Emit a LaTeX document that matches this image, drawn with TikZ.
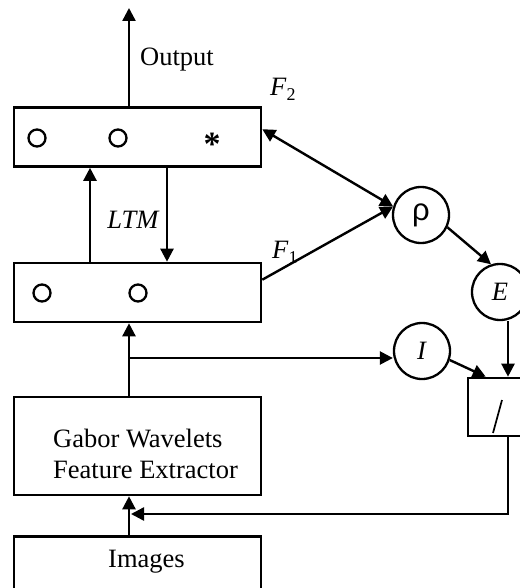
\documentclass[tikz,border=0pt]{standalone}
\usepackage{fontspec}
\setmainfont{Liberation Serif}
\newfontfamily\greekfont{Liberation Sans}
\usetikzlibrary{arrows.meta,positioning,calc}
\tikzset{
  layer/.style={draw,line width=2.6pt,minimum width=247pt,minimum height=59pt,inner sep=0pt},
  block/.style={draw,line width=2.6pt,minimum width=247pt,inner sep=0pt},
  cell/.style={draw,circle,line width=2.3pt,minimum size=17pt,inner sep=0pt},
  unit/.style={draw,circle,line width=2.3pt,minimum size=56pt,inner sep=0pt,
    font=\fontsize{26.5}{31}\selectfont},
  arrow/.style={-{Triangle[length=13pt,width=13pt]},line width=2.4pt},
  twoway/.style={{Triangle[length=13pt,width=13pt]}-{Triangle[length=13pt,width=13pt]},line width=2.4pt},
  labelstyle/.style={font=\fontsize{26.5}{31}\selectfont,inner sep=0pt}
}
\newcommand{\layerlab}[1]{\textit{F}\raisebox{-5pt}{\fontsize{18}{18}\selectfont #1}}

\begin{document}
\begin{tikzpicture}[x=1pt,y=-1pt]
  \useasboundingbox (0,0) rectangle (519,588);
  % boxes
  \node[layer] (f2) at (137.5,137) {};
  \node[layer] (f1) at (137.5,292.5) {};
  \node[block,minimum height=98pt] (gabor) at (137.5,446) {};
  \node[block,minimum height=70pt,anchor=north] (images) at (137.5,535) {};
  \node[draw,line width=2.6pt,minimum width=80pt,minimum height=58pt,inner sep=0pt] (cmp) at (508,407) {};
  % texts
  \node[labelstyle,align=left,anchor=west] (gabortxt) at (53,454) {Gabor Wavelets\\Feature Extractor};
  \node[labelstyle,anchor=base] (imgtxt) at (146.5,567) {Images};
  \node[labelstyle,anchor=base west] (outtxt) at (140,66) {Output};
  \node[labelstyle,anchor=base,font=\fontsize{26.5}{31}\selectfont\itshape] (ltm) at (133,228) {LTM};
  \node[labelstyle,anchor=base west] (f2lbl) at (270,96) {\layerlab{2}};
  \node[labelstyle,anchor=base west] (f1lbl) at (272,258) {\layerlab{1}};
  % cells of F2 and F1
  \node[cell] (a2) at (37,138) {};
  \node[cell] (b2) at (118,138) {};
  \node[labelstyle,anchor=base,font=\fontsize{34}{34}\selectfont\bfseries] (star) at (212,156) {*};
  \node[cell] (a1) at (42,293) {};
  \node[cell] (b1) at (138,293) {};
  % orienting units
  \node[unit] (rho) at (421,215) {\fontsize{31}{31}\selectfont\greekfont ρ};
  \node[unit] (E) at (500,292) {\textit{E}};
  \node[unit] (I) at (422,351) {\textit{I}};
  \draw[line width=1.7pt] ($(cmp.center)+(-6,-7)$) -- ($(cmp.center)+(-15,26)$);
  % connections
  \coordinate (out) at (129,8);
  \coordinate (split) at (129,358);
  \coordinate (fb) at (131,514);
  \draw[arrow] (f2.north -| out) -- (out);
  \draw[arrow] ([xshift=-47.5pt]f1.north) -- ([xshift=-47.5pt]f2.south);
  \draw[arrow] ([xshift=29.5pt]f2.south) -- ([xshift=29.5pt]f1.north);
  \draw[twoway] ($(f2.north east)+(0,23)$) -- (rho.163);
  \draw[arrow] ($(f1.north east)+(0,18)$) -- (rho.163);
  \draw[arrow] (rho.-25) -- (E.108);
  \draw[arrow] (E.south -| cmp) -- (cmp.north);
  \draw[arrow] (I.-18) -- ($(cmp.north west)+(19,0)$);
  \draw[arrow] (images.north -| out) -- (gabor.south -| out);
  \draw[arrow] (gabor.north -| out) -- (f1.south -| out);
  \draw[arrow] (split) -- (split -| I.west);
  \draw[arrow] (cmp.south) |- (fb);
\end{tikzpicture}
\end{document}
